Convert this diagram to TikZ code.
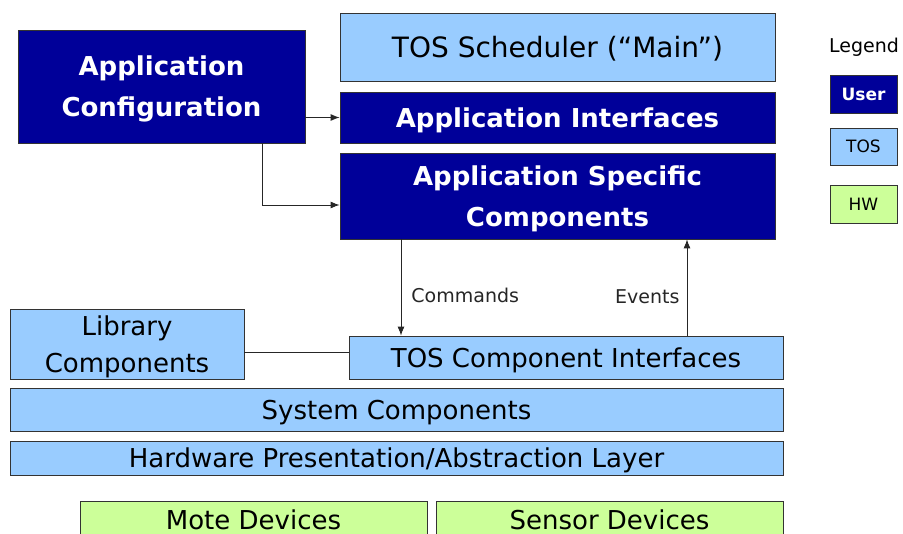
\documentclass[tikz,border=0pt]{standalone}
\usepackage{fontspec}
\setmainfont{DejaVu Sans}
\usepackage{xcolor}
\usetikzlibrary{positioning,arrows.meta}
\definecolor{userblue}{HTML}{000099}
\definecolor{tosblue}{HTML}{99CCFF}
\definecolor{hwgreen}{HTML}{CCFF99}

\begin{document}
\begin{tikzpicture}[x=1pt,y=-1pt,
  >={Latex[length=9pt,width=7pt]},
  box/.style={draw=black!80, line width=0.8pt, inner sep=0pt, align=center, text depth=0pt},
  userbox/.style={box, fill=userblue, text=white, font=\bfseries\fontsize{26}{41}\selectfont},
  tosbox/.style={box, fill=tosblue, text=black, font=\fontsize{26}{37}\selectfont},
  hwbox/.style={box, fill=hwgreen, text=black, font=\fontsize{26}{32}\selectfont},
  wire/.style={black!85, line width=0.9pt},
  lbl/.style={font=\fontsize{19}{22}\selectfont, inner sep=0pt}]
  \useasboundingbox (0,0) rectangle (903,534);
  \clip (0,0) rectangle (903,534);

    % User layer
    \node[userbox, minimum width=287, minimum height=113] (appcfg) at (161.5,86.5) {Application\\Configuration};
    \node[tosbox, minimum width=435, minimum height=68, font=\fontsize{28}{32}\selectfont] (sched) at (557.5,47) {TOS Scheduler (“Main”)};
    \node[userbox, minimum width=435, minimum height=51] (appif) at (557.5,117.5) {Application Interfaces};
    \node[userbox, minimum width=435, minimum height=86] (appspec) at (557.5,196) {Application Specific\\Components};

    % TOS layer
    \node[tosbox, minimum width=234, minimum height=70] (lib) at (127,344) {Library\\Components};
    \node[tosbox, minimum width=434, minimum height=43] (tosif) at (566,357.5) {TOS Component Interfaces};
    \node[tosbox, minimum width=773, minimum height=43] (syscomp) at (396.5,409.5) {System Components};
    \node[tosbox, minimum width=773, minimum height=34] (hwl) at (396.5,458) {Hardware Presentation/Abstraction Layer};

    % HW layer (cut by the lower edge)
    \node[hwbox, minimum width=347, minimum height=44] (mote) at (253.5,523) {\raisebox{6pt}{Mote Devices}};
    \node[hwbox, minimum width=347, minimum height=44] (sensor) at (609.5,523) {\raisebox{6pt}{Sensor Devices}};

    % Legend
    \node[lbl, font=\fontsize{19}{22}\selectfont] (legend) at (864,47) {Legend};
    \node[box, fill=userblue, text=white, font=\bfseries\fontsize{17}{20}\selectfont, minimum width=67, minimum height=38] (keyuser) at (863.5,94) {User};
    \node[box, fill=tosblue, font=\fontsize{17}{20}\selectfont, minimum width=67, minimum height=37] (keytos) at (863.5,146.5) {TOS};
    \node[box, fill=hwgreen, font=\fontsize{17}{20}\selectfont, minimum width=67, minimum height=38] (keyhw) at (863.5,204) {HW};

    % Connectors
    \draw[->, wire] (appcfg.east |- appif.west) -- (appif.west);
    \draw[->, wire] ([xshift=100.5]appcfg.south) |- ([yshift=-9]appspec.west);
    \draw[->, wire] ([xshift=-156.5]appspec.south) -- ([xshift=-156.5]appspec.south |- tosif.north)
      node[lbl, pos=0.58, right=10pt] (cmdlbl) {Commands};
    \draw[->, wire] ([xshift=121]tosif.north) -- ([xshift=121]tosif.north |- appspec.south)
      node[lbl, pos=0.4, left=7pt] (evtlbl) {Events};
    \draw[wire] ([yshift=-8]lib.east) -- ([yshift=-8]lib.east -| tosif.west);

\end{tikzpicture}
\end{document}
